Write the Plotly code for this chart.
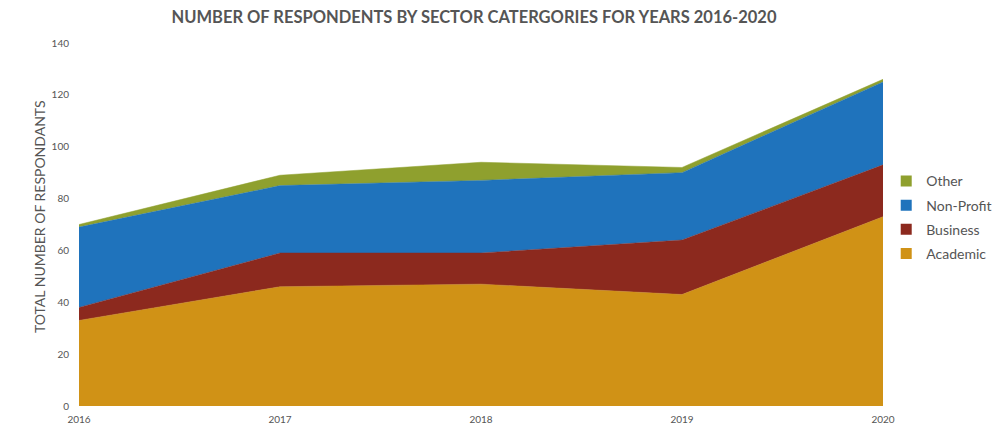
import plotly.graph_objects as go

years = ["2016", "2017", "2018", "2019", "2020"]
academic = [33, 46, 47, 43, 73]
business = [5, 13, 12, 21, 20]
non_profit = [31, 26, 28, 26, 32]
other = [1, 4, 7, 2, 1]

y_ticks = [0, 20, 40, 60, 80, 100, 120, 140]

series = [
    ("Academic", academic, "#d09216"),
    ("Business", business, "#8c291e"),
    ("Non-Profit", non_profit, "#1f73bc"),
    ("Other", other, "#8fa02e"),
]

fig = go.Figure()
for name, vals, col in series:
    fig.add_trace(go.Scatter(
        x=years, y=vals, name=name, mode="lines",
        stackgroup="one", line=dict(width=0.5, color=col),
        fillcolor=col, showlegend=False,
    ))
# legend entries with square swatches (top to bottom: Other, Non-Profit, Business, Academic)
for name, vals, col in reversed(series):
    fig.add_trace(go.Scatter(
        x=[None], y=[None], name=name, mode="markers",
        marker=dict(symbol="square", size=11, color=col),
        legendgroup=name, showlegend=True,
    ))

font_fam = "Lato, 'Open Sans', sans-serif"
grey = "#555555"
# page has an 8px body margin; figure is sized to fill the rest of the window
W, H = 994, 418
L, R, T, B = 71, 119, 35, 20
fig.update_layout(
    width=W, height=H,
    margin=dict(l=L, r=R, t=T, b=B, autoexpand=False),
    paper_bgcolor="white", plot_bgcolor="white",
    title=dict(text="<b>NUMBER OF RESPONDENTS BY SECTOR CATERGORIES FOR YEARS 2016-2020</b>",
               x=(474 - 8) / W, xanchor="center", y=1 - 9 / H, yanchor="middle",
               font=dict(family=font_fam, size=16.5, color=grey)),
    legend=dict(traceorder="grouped", x=1.004, xanchor="left", y=0.663, yanchor="top",
                font=dict(family=font_fam, size=14, color=grey),
                itemwidth=30, tracegroupgap=3),
    xaxis=dict(type="category", showgrid=False, zeroline=False, showline=False,
               range=[0, 4], ticks="outside", ticklen=4, tickcolor="white", automargin=False,
               tickfont=dict(family=font_fam, size=10, color=grey)),
    yaxis=dict(range=[0, 140], tickvals=y_ticks, showgrid=False, zeroline=False,
               showline=False, ticks="outside", ticklen=7, tickcolor="white", automargin=False,
               tickfont=dict(family=font_fam, size=10, color=grey)),
    annotations=[dict(text="TOTAL NUMBER OF RESPONDANTS", textangle=-90,
                      xref="paper", yref="paper", x=(32 - L) / 804, y=(398 - 209) / 363,
                      xanchor="center", yanchor="middle", showarrow=False,
                      font=dict(family=font_fam, size=14, color=grey))],
)

fig.write_html("out.html")
